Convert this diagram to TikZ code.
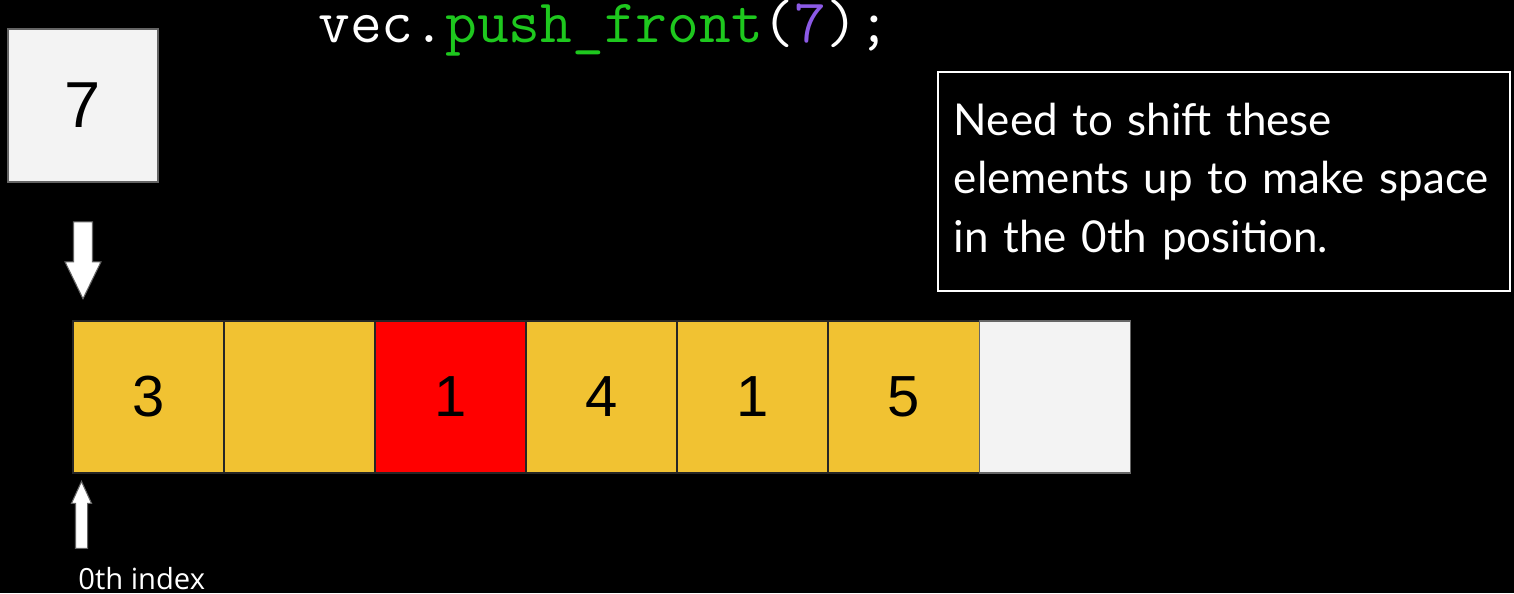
\documentclass[tikz,border=0pt]{standalone}
\usepackage{fontspec}
\setmainfont{Liberation Sans}
\newfontfamily\notefont{Lato}
\newfontfamily\labelfont{Open Sans}
\usetikzlibrary{positioning, shapes.arrows}
\definecolor{cellyellow}{RGB}{241,194,50}
\definecolor{cellred}{RGB}{255,0,0}
\definecolor{cellgray}{RGB}{243,243,243}
\definecolor{codegreen}{RGB}{30,200,30}
\definecolor{codepurple}{RGB}{140,90,230}
\definecolor{edgegray}{RGB}{100,100,100}

\begin{document}
\begin{tikzpicture}[x=0.02cm,y=-0.02cm,
      cell/.style={draw=black!85,line width=1pt,outer sep=0pt,inner sep=0pt,
                   minimum width=3.022cm,minimum height=3.04cm,
                   font=\fontsize{33}{36}\selectfont},
      blockarrow/.style={single arrow,draw=edgegray,fill=white,line width=0.6pt,
                         inner xsep=0pt,minimum width=0pt}]
    \fill[black] (0,0) rectangle (1514,593);
    \useasboundingbox (0,0) rectangle (1514,593);
    % code line
    \node[anchor=base west,text=white,inner sep=0pt,
          font=\ttfamily\fontsize{35.1}{38}\selectfont] (code) at (318,42)
      {vec.\textcolor{codegreen}{push\_front}(\textcolor{codepurple}{7});};
    % new element
    \node[draw=edgegray,fill=cellgray,line width=0.6pt,minimum width=3cm,
          minimum height=3.06cm,font=\fontsize{37}{40}\selectfont] (seven) at (83,105.5) {7};
    \node[blockarrow,rotate=-90,minimum height=1.54cm,inner ysep=0.18cm,
          single arrow head extend=0.17cm,single arrow tip angle=52] (drop) at (83,250.5) {};
    % the vector
    \node[cell,fill=cellyellow,anchor=north west] (c0) at (73,321) {3};
    \node[cell,fill=cellyellow,right=0pt of c0] (c1) {};
    \node[cell,fill=cellred,right=0pt of c1] (c2) {1};
    \node[cell,fill=cellyellow,right=0pt of c2] (c3) {4};
    \node[cell,fill=cellyellow,right=0pt of c3] (c4) {1};
    \node[cell,fill=cellyellow,right=0pt of c4] (c5) {5};
    \node[cell,fill=cellgray,draw=black!60,right=0pt of c5] (c6) {};
    % index marker
    \node[blockarrow,rotate=90,minimum height=1.34cm,inner ysep=0.11cm,
          single arrow head extend=0.08cm,single arrow tip angle=49] (zero) at (81.5,521.5) {};
    \node[anchor=base west,text=white,inner sep=0pt,
          font=\labelfont\fontsize{16.6}{18}\selectfont] (idx) at (78,589) {0th index};
    % note
    \node[draw=white,line width=1.1pt,fill=black,text=white,anchor=north west,
          minimum width=11.44cm,minimum height=4.38cm,text width=10.8cm,
          inner xsep=0.32cm,align=left,
          font=\notefont\fontsize{25}{33.3}\selectfont] (note) at (937,71)
      {Need to shift these\\elements up to make space\\in the 0th position.};
\end{tikzpicture}
\end{document}
